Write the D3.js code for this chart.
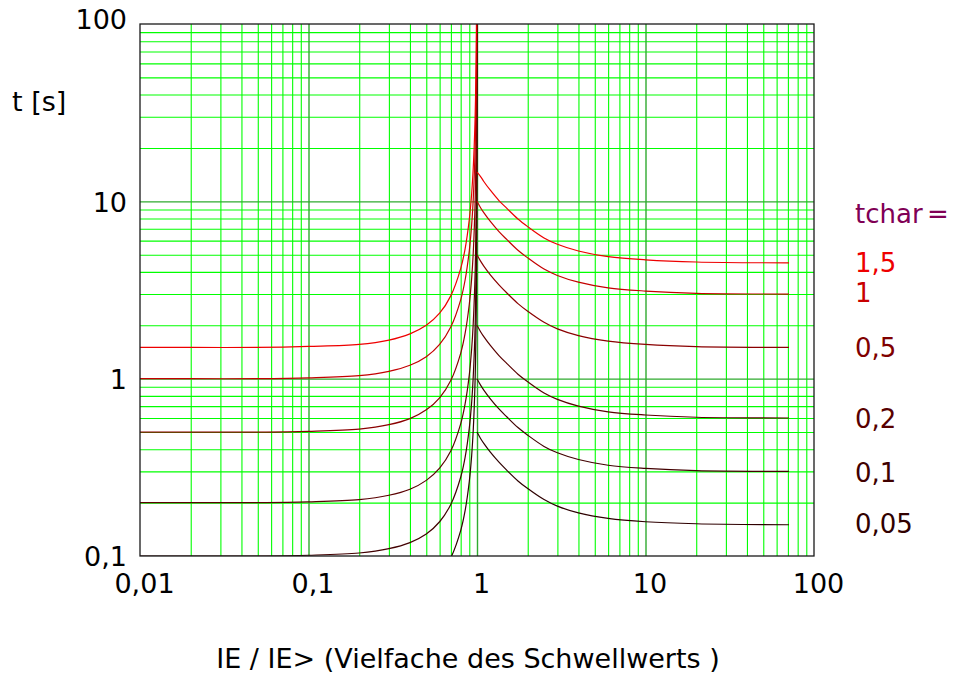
<!DOCTYPE html>
<html><head><meta charset="utf-8">
<script src="https://cdn.jsdelivr.net/npm/d3@7"></script>
<style>
html,body{margin:0;padding:0;background:#fff;}
svg{display:block;font-family:"DejaVu Sans",sans-serif;}
</style></head>
<body><svg id="c" width="954" height="679"></svg>
<script>
// ---- data ----
const xTickValues = [0.01, 0.1, 1, 10, 100];
const xTickLabels = ["0,01", "0,1", "1", "10", "100"];
const yTickValues = [0.1, 1, 10, 100];
const yTickLabels = ["0,1", "1", "10", "100"];
const tcharValues = [1.5, 1, 0.5, 0.2, 0.1, 0.05];
const tcharLabels = ["1,5", "1", "0,5", "0,2", "0,1", "0,05"];

// left branch (below threshold) sample points
const leftX = [0.01, 0.02, 0.05, 0.1, 0.2, 0.3, 0.4, 0.5, 0.6, 0.7, 0.8, 0.85, 0.9, 0.93, 0.95, 0.97, 0.98, 0.99, 0.995, 0.998, 0.999, 0.9998];
const left_1_5 = [1.5, 1.5, 1.5, 1.52, 1.56, 1.65, 1.79, 2.0, 2.34, 2.94, 4.17, 5.4, 7.9, 11.1, 15.4, 25.4, 38, 75, 150, 375, 750, 3750];
const left_1   = [1.0, 1.0, 1.0, 1.01, 1.04, 1.1, 1.19, 1.33, 1.56, 1.96, 2.78, 3.6, 5.26, 7.4, 10.3, 16.9, 25.3, 50, 100, 250, 500, 2500];
const left_0_5 = [0.5, 0.5, 0.5, 0.505, 0.52, 0.55, 0.595, 0.667, 0.78, 0.98, 1.39, 1.8, 2.63, 3.7, 5.13, 8.46, 12.6, 25, 50, 125, 250, 1250];
const left_0_2 = [0.2, 0.2, 0.2, 0.202, 0.208, 0.22, 0.238, 0.267, 0.313, 0.392, 0.556, 0.72, 1.05, 1.48, 2.05, 3.38, 5.05, 10, 20, 50, 100, 500];
const left_0_1 = [0.1, 0.1, 0.1, 0.101, 0.104, 0.11, 0.119, 0.133, 0.156, 0.196, 0.278, 0.36, 0.526, 0.74, 1.03, 1.69, 2.53, 5, 10, 25, 50, 250];
const left_0_05 = [0.05, 0.05, 0.05, 0.0505, 0.052, 0.055, 0.0595, 0.0667, 0.078, 0.098, 0.139, 0.18, 0.263, 0.37, 0.513, 0.846, 1.26, 2.5, 5, 12.5, 25, 125];

// right branch (above threshold) sample points
const rightX = [1, 1.05, 1.1, 1.2, 1.35, 1.5, 1.75, 2, 2.5, 3, 4, 6, 10, 20, 71];
const right_1_5 = [14.6, 13.8, 12.9, 11.55, 10.1, 9.15, 7.95, 7.2, 6.22, 5.73, 5.25, 4.88, 4.68, 4.55, 4.5];
const right_1   = [10, 9.2, 8.6, 7.7, 6.75, 6.1, 5.3, 4.8, 4.15, 3.82, 3.5, 3.25, 3.12, 3.03, 3.0];
const right_0_5 = [5, 4.6, 4.3, 3.85, 3.38, 3.05, 2.65, 2.4, 2.08, 1.91, 1.75, 1.63, 1.56, 1.515, 1.5];
const right_0_2 = [2, 1.84, 1.72, 1.54, 1.35, 1.22, 1.06, 0.96, 0.83, 0.764, 0.70, 0.65, 0.624, 0.606, 0.6];
const right_0_1 = [1, 0.92, 0.86, 0.77, 0.675, 0.61, 0.53, 0.48, 0.415, 0.382, 0.35, 0.325, 0.312, 0.303, 0.3];
const right_0_05 = [0.5, 0.46, 0.43, 0.385, 0.338, 0.305, 0.265, 0.24, 0.208, 0.191, 0.175, 0.163, 0.156, 0.152, 0.15];

const seriesLeft = [left_1_5, left_1, left_0_5, left_0_2, left_0_1, left_0_05];
const seriesRight = [right_1_5, right_1, right_0_5, right_0_2, right_0_1, right_0_05];
const curveColors = ["#ee0000", "#c40000", "#8a0000", "#5a0000", "#420000", "#2e0000"];
const labelColors = ["#ee0000", "#c80000", "#800000", "#580000", "#400000", "#300000"];

// ---- layout ----
const L = 140, R = 814, T = 24, B = 556;
const svg = d3.select("#c");
const x = d3.scaleLog().domain([0.01, 100]).range([L, R]);
const y = d3.scaleLog().domain([0.1, 100]).range([B, T]);

// minor / major grid values
const minorX = [], minorY = [];
[0.01, 0.1, 1, 10].forEach(d => { for (let k = 2; k <= 9; k++) minorX.push(+(d * k).toPrecision(3)); });
[0.1, 1, 10].forEach(d => { for (let k = 2; k <= 9; k++) minorY.push(+(d * k).toPrecision(3)); });

const gGrid = svg.append("g");
gGrid.append("g").attr("transform", `translate(0,${B})`)
  .call(d3.axisBottom(x).tickValues(minorX).tickSize(-(B - T)).tickFormat(""))
  .call(g => { g.select(".domain").remove(); g.selectAll("line").attr("stroke", "#00ff00").attr("stroke-width", 1.1); });
gGrid.append("g").attr("transform", `translate(${L},0)`)
  .call(d3.axisLeft(y).tickValues(minorY).tickSize(-(R - L)).tickFormat(""))
  .call(g => { g.select(".domain").remove(); g.selectAll("line").attr("stroke", "#00ff00").attr("stroke-width", 1.1); });
gGrid.append("g").attr("transform", `translate(0,${B})`)
  .call(d3.axisBottom(x).tickValues([0.1, 1, 10]).tickSize(-(B - T)).tickFormat(""))
  .call(g => { g.select(".domain").remove(); g.selectAll("line").attr("stroke", "#2faa2f").attr("stroke-width", 1.4); });
gGrid.append("g").attr("transform", `translate(${L},0)`)
  .call(d3.axisLeft(y).tickValues([1, 10]).tickSize(-(R - L)).tickFormat(""))
  .call(g => { g.select(".domain").remove(); g.selectAll("line").attr("stroke", "#2faa2f").attr("stroke-width", 1.4); });

// clip
svg.append("defs").append("clipPath").attr("id", "clip")
  .append("rect").attr("x", L).attr("y", T).attr("width", R - L).attr("height", B - T);

const line = d3.line().x(d => x(d[0])).y(d => y(d[1])).curve(d3.curveCatmullRom.alpha(0.5));
const gCurves = svg.append("g").attr("clip-path", "url(#clip)");
for (let i = tcharValues.length - 1; i >= 0; i--) {
  const lp = leftX.map((v, j) => [v, seriesLeft[i][j]]);
  const rp = rightX.map((v, j) => [v, seriesRight[i][j]]);
  gCurves.append("path").attr("d", line(lp)).attr("fill", "none")
    .attr("stroke", curveColors[i]).attr("stroke-width", 1.2);
  gCurves.append("path").attr("d", line(rp)).attr("fill", "none")
    .attr("stroke", curveColors[i]).attr("stroke-width", 1.2);
}

// frame
svg.append("rect").attr("x", L).attr("y", T).attr("width", R - L).attr("height", B - T)
  .attr("fill", "none").attr("stroke", "#1a1a1a").attr("stroke-width", 1.3);

// axes labels
const fmtX = d => xTickLabels[xTickValues.indexOf(d)];
const fmtY = d => yTickLabels[yTickValues.indexOf(d)];
svg.append("g").attr("transform", `translate(4,${B})`)
  .call(d3.axisBottom(x).tickValues(xTickValues).tickFormat(fmtX).tickSize(0).tickPadding(0))
  .call(g => {
    g.select(".domain").remove();
    g.selectAll("text").attr("font-family", "DejaVu Sans").attr("font-size", 27)
      .attr("fill", "#000").attr("dy", null).attr("y", 37);
  });
svg.append("g").attr("transform", `translate(127,0)`)
  .call(d3.axisLeft(y).tickValues(yTickValues).tickFormat(fmtY).tickSize(0).tickPadding(0))
  .call(g => {
    g.select(".domain").remove();
    g.selectAll("text").attr("font-family", "DejaVu Sans").attr("font-size", 27)
      .attr("fill", "#000").attr("dy", null)
      .attr("y", d => d === 100 ? 4 : (d === 0.1 ? 9 : 10));
  });

svg.append("text").attr("x", 12).attr("y", 111).attr("font-size", 27).attr("fill", "#000").text("t [s]");
svg.append("text").attr("x", 468).attr("y", 668).attr("text-anchor", "middle").attr("font-size", 27)
  .attr("fill", "#000").text("IE / IE> (Vielfache des Schwellwerts )");

// tchar legend
svg.append("text").attr("x", 855).attr("y", 223).attr("font-size", 26).attr("fill", "#800055").text("tchar");
svg.append("text").attr("x", 927).attr("y", 223).attr("font-size", 26).attr("fill", "#800055").text("=");
const labelY = [272, 302, 357, 428, 482, 533];
tcharLabels.forEach((t, i) => {
  svg.append("text").attr("x", 855).attr("y", labelY[i]).attr("font-size", 26)
    .attr("fill", labelColors[i]).text(t);
});
</script></body></html>
